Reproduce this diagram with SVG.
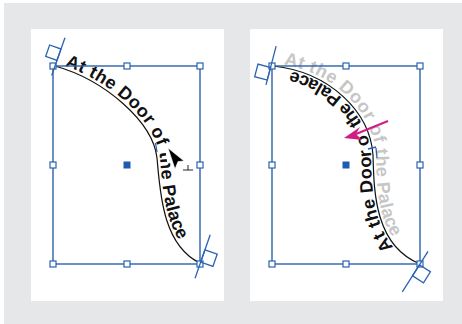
<svg xmlns="http://www.w3.org/2000/svg" xmlns:xlink="http://www.w3.org/1999/xlink" width="462" height="324" viewBox="0 0 462 324">
<style>
.frame{fill:none;stroke:#2a63b0;stroke-width:1.4}
.h{fill:#fff;stroke:#2a63b0;stroke-width:1.2}
.c{fill:#1d5cb0}
.curve{fill:none;stroke:#111;stroke-width:1.2}
.mk{fill:none;stroke:#2a63b0;stroke-width:1.3}
.t{font-family:"Liberation Sans",Arial,sans-serif;font-weight:bold;font-size:18px;letter-spacing:0.3px}
</style>
<defs>
<path id="pL" d="M55,66 C105,80 153,122 157,158 C160,190 162,245 200,263"/>
<path id="pR" d="M273,66 C330,72 370,112 373,155 C374,190 374,245 420,264"/>
<path id="pRr" d="M420,264 C374,245 374,190 373,155 C370,112 330,72 273,66"/>
</defs>
<rect x="4" y="3" width="458" height="321" fill="#e6e7e8"/>
<rect x="31" y="29" width="193" height="272" fill="#fff"/>
<rect x="250" y="29" width="193" height="272" fill="#fff"/>

<g id="left-panel">
  <text class="t" fill="#111"><textPath xlink:href="#pL" startOffset="9"><tspan dy="-3">At the Door of the Palace</tspan></textPath></text>
  <rect x="166" y="146" width="8" height="17" fill="#fff" transform="rotate(-8 170 154)"/>
  <use xlink:href="#pL" class="curve"/>
  <rect class="frame" x="53" y="66" width="147" height="198"/>
  <line x1="155.5" y1="143" x2="157" y2="152" stroke="#2a63b0" stroke-width="1.3"/>
  <g class="handles">
    <rect class="h" x="50" y="63" width="6" height="6"/>
    <rect class="h" x="124" y="63" width="6" height="6"/>
    <rect class="h" x="197" y="63" width="6" height="6"/>
    <rect class="h" x="50" y="162" width="6" height="6"/>
    <rect class="h" x="197" y="162" width="6" height="6"/>
    <rect class="h" x="50" y="261" width="6" height="6"/>
    <rect class="h" x="124" y="261" width="6" height="6"/>
    <rect class="h" x="197" y="261" width="6" height="6"/>
    <rect class="c" x="123.5" y="161.5" width="7" height="7"/>
  </g>
  <g transform="translate(55,66) rotate(19.4)">
    <line class="mk" x1="0" y1="-30" x2="0" y2="10"/>
    <rect class="mk" x="-12" y="-18" width="12" height="12"/>
  </g>
  <g transform="translate(200,264) rotate(19.2)">
    <line class="mk" x1="0" y1="-31" x2="0" y2="15"/>
    <rect class="mk" x="0" y="-15" width="13" height="13"/>
  </g>
  <g id="cursor">
    <path d="M168,148 L184,161 L178,161.5 L175,169 Z" fill="#000" stroke="#fff" stroke-width="0.6"/>
    <path d="M183,170 H193 M188,165 V170" stroke="#222" stroke-width="1" fill="none"/>
  </g>
</g>

<g id="right-panel">
  <text class="t" fill="#111"><textPath xlink:href="#pRr" startOffset="31"><tspan dy="-2">At the Door of the Palace</tspan></textPath></text>
  <path d="M368.5,133 L366.5,126 L353.5,131 L355.5,138 Z" fill="#fff"/>
  <text class="t" fill="#c6c6c6"><textPath xlink:href="#pR" startOffset="10"><tspan dy="-3">At the Door of the Palace</tspan></textPath></text>
  <use xlink:href="#pR" class="curve"/>
  <rect class="frame" x="272" y="66" width="148" height="198"/>
  <path d="M368,149 L376,147 M376,148 L377,158" stroke="#2a63b0" stroke-width="1.3" fill="none"/>
  <g class="handles">
    <rect class="h" x="269" y="63" width="6" height="6"/>
    <rect class="h" x="343" y="63" width="6" height="6"/>
    <rect class="h" x="417" y="63" width="6" height="6"/>
    <rect class="h" x="269" y="162" width="6" height="6"/>
    <rect class="h" x="417" y="162" width="6" height="6"/>
    <rect class="h" x="269" y="261" width="6" height="6"/>
    <rect class="h" x="343" y="261" width="6" height="6"/>
    <rect class="h" x="417" y="261" width="6" height="6"/>
    <rect class="c" x="342.5" y="161.5" width="7" height="7"/>
  </g>
  <g transform="translate(273,66) rotate(14.7)">
    <line class="mk" x1="-2" y1="-20" x2="-2" y2="20"/>
    <rect class="mk" x="-15" y="2" width="13" height="13"/>
  </g>
  <g transform="translate(420,264) rotate(32.4)">
    <line class="mk" x1="0" y1="-15" x2="0" y2="33"/>
    <rect class="mk" x="0" y="1" width="13" height="13"/>
  </g>
  <g id="arrow">
    <line x1="388" y1="121" x2="356" y2="134" stroke="#d01d85" stroke-width="2"/>
    <path d="M344,138 L360,127 L356,134 L362,140 Z" fill="#d01d85"/>
  </g>
</g>
</svg>
